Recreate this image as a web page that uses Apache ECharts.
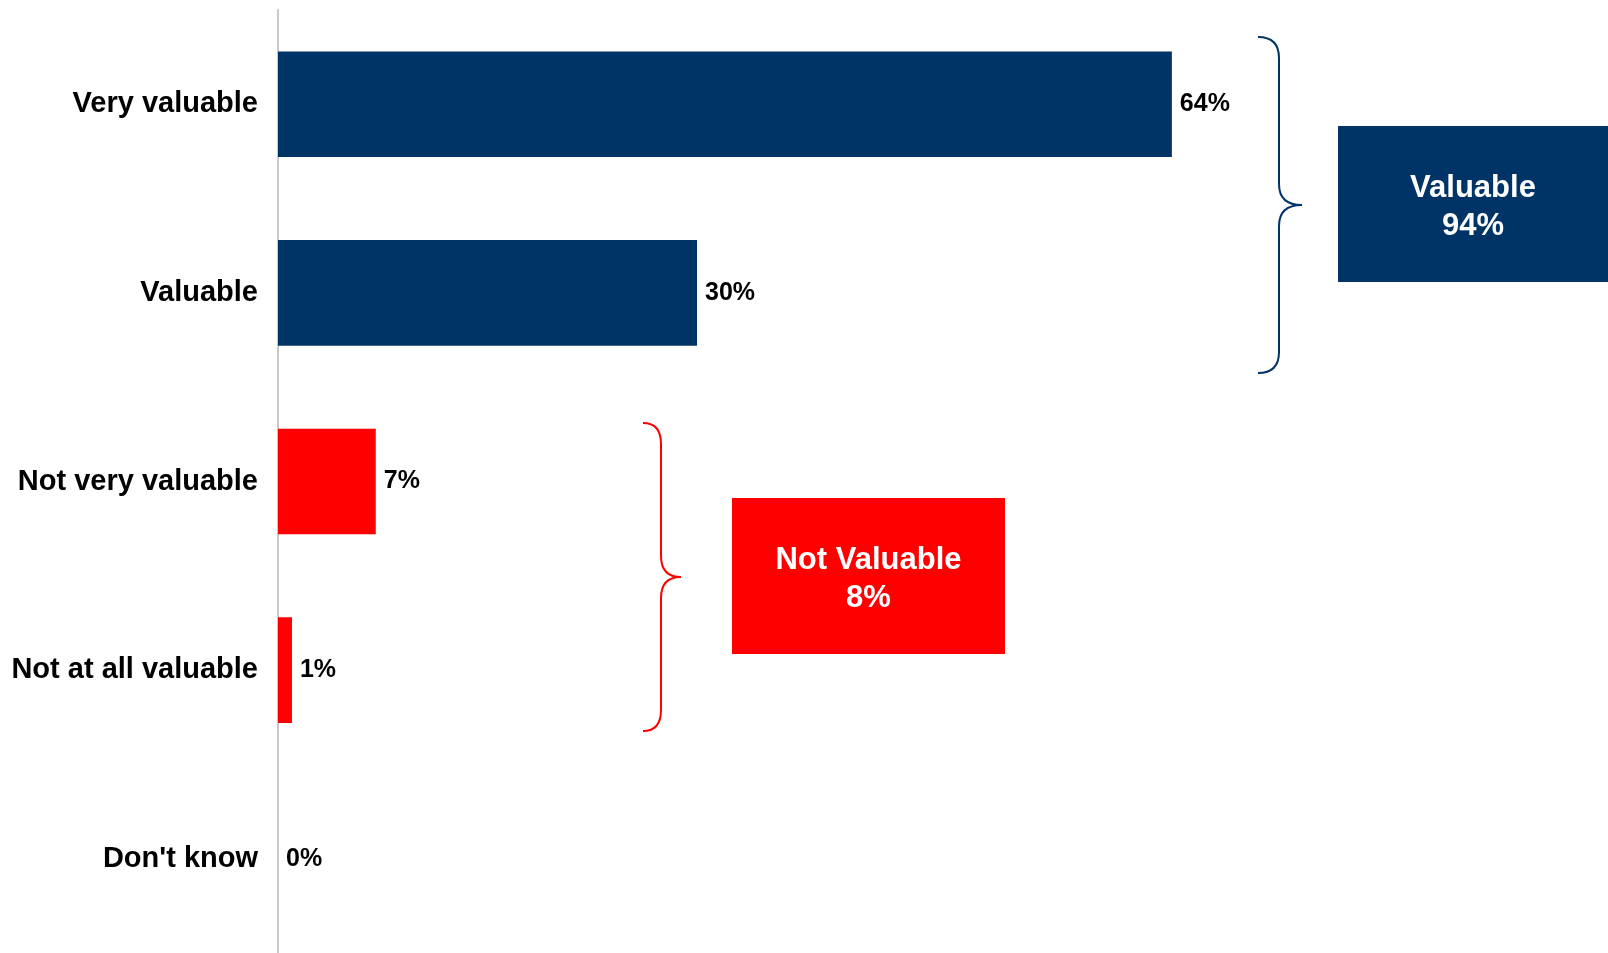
<!DOCTYPE html>
<html>
<head>
<meta charset="utf-8">
<title>How valuable</title>
<script src="https://cdn.jsdelivr.net/npm/echarts@6/dist/echarts.min.js"></script>
<style>
  html, body { margin: 0; padding: 0; background: #ffffff; }
  #chart { width: 1608px; height: 953px; }
</style>
</head>
<body>
<div id="chart"></div>
<script>
// Survey answers, top to bottom
const categories = ['Very valuable', 'Valuable', 'Not very valuable', 'Not at all valuable', "Don't know"];
const values = [64, 30, 7, 1, 0];
const barColors = ['#003366', '#003366', '#ff0000', '#ff0000', '#ff0000'];

// Net groupings shown in the callout boxes
const positiveGroup = { title: 'Valuable', members: [0, 1] };
const negativeGroup = { title: 'Not Valuable', members: [2, 3] };

const NAVY = '#003366';
const RED = '#ff0000';
const FONT = '"Liberation Sans", Arial, Helvetica, sans-serif';

function groupTotal(g) {
  return g.members.reduce((s, i) => s + values[i], 0);
}

const chart = echarts.init(document.getElementById('chart'), null, { renderer: 'canvas' });

// Curly brace built from straight runs and quadratic curls:
// ends at xEnd, spine at x, tip pointing right at xTip, spanning y0..y1
function brace(xEnd, x, xTip, y0, y1, color) {
  const mid = (y0 + y1) / 2;
  const r = 21;
  const st = { stroke: color, lineWidth: 2, fill: null };
  const curve = (x1, y1_, cx, cy, x2, y2) => ({
    type: 'bezierCurve',
    shape: { x1: x1, y1: y1_, cpx1: cx, cpy1: cy, x2: x2, y2: y2 },
    style: st
  });
  const line = (x1, y1_, x2, y2) => ({
    type: 'line',
    shape: { x1: x1, y1: y1_, x2: x2, y2: y2 },
    style: st
  });
  return {
    type: 'group',
    children: [
      curve(xEnd, y0, x, y0, x, y0 + r),
      line(x, y0 + r, x, mid - r),
      curve(x, mid - r, x, mid, xTip, mid),
      curve(xTip, mid, x, mid, x, mid + r),
      line(x, mid + r, x, y1 - r),
      curve(x, y1 - r, x, y1, xEnd, y1)
    ]
  };
}

function callout(x, y, w, h, color, group) {
  return {
    type: 'group',
    children: [
      { type: 'rect', shape: { x: x, y: y, width: w, height: h }, style: { fill: color } },
      {
        type: 'text',
        x: x + w / 2, y: y + h / 2 + 3,
        style: {
          text: group.title + '\n' + groupTotal(group) + '%',
          fill: '#ffffff',
          font: 'bold 31px ' + FONT,
          lineHeight: 38,
          align: 'center',
          verticalAlign: 'middle'
        }
      }
    ]
  };
}

const option = {
  backgroundColor: '#ffffff',
  animation: false,
  grid: { left: 278, right: 73, top: 10, bottom: -3, containLabel: false },
  xAxis: {
    type: 'value',
    min: 0,
    max: 90,
    show: false
  },
  yAxis: {
    type: 'category',
    data: categories,
    inverse: true,
    axisLine: { show: true, lineStyle: { color: '#c8c8c8', width: 2 } },
    axisTick: { show: false },
    axisLabel: {
      margin: 20,
      fontSize: 29,
      fontWeight: 'bold',
      color: '#000000',
      fontFamily: FONT,
      padding: [3, 0, 0, 0]
    },
    splitLine: { show: false }
  },
  series: [{
    type: 'bar',
    data: values.map((v, i) => ({ value: v, itemStyle: { color: barColors[i] } })),
    barCategoryGap: '44%',
    label: {
      show: true,
      position: 'right',
      distance: 8,
      formatter: p => p.value + '%',
      fontSize: 25,
      fontWeight: 'bold',
      color: '#000000',
      fontFamily: FONT,
      padding: [3, 0, 0, 0]
    }
  }],
  graphic: [
    brace(1258, 1279, 1302, 37, 373, NAVY),
    callout(1338, 126, 270, 156, NAVY, positiveGroup),
    brace(643, 661, 681, 423, 731, RED),
    callout(732, 498, 273, 156, RED, negativeGroup)
  ]
};

chart.setOption(option);
</script>
</body>
</html>
